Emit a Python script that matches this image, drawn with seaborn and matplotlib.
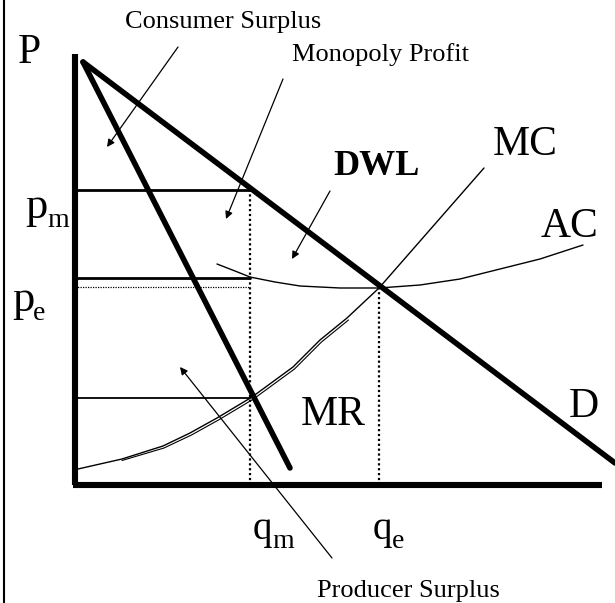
import matplotlib
matplotlib.use("Agg")
import matplotlib.pyplot as plt
import seaborn as sns

# ---- data (units: quantity Q on x, price P on y) ----
demand_q = [0.16, 10.8]
demand_p = [8.46, 0.44]
mr_q = [0.16, 4.30]
mr_p = [8.46, 0.34]
mc_q = [0.06, 0.94, 1.76, 2.30, 2.84, 3.54, 4.36, 4.90, 5.44, 6.08, 8.18]
mc_p = [0.32, 0.52, 0.78, 1.04, 1.34, 1.76, 2.36, 2.90, 3.34, 3.94, 6.34]
mc2_q = [0.94, 1.78, 2.33, 2.87, 3.57, 4.39, 4.93, 5.47]
mc2_p = [0.49, 0.74, 1.00, 1.30, 1.72, 2.32, 2.86, 3.30]
ac_q = [2.84, 3.20, 3.50, 4.00, 4.50, 5.30, 6.08, 6.90, 7.70, 8.50, 9.30, 10.16]
ac_p = [4.42, 4.28, 4.16, 4.06, 3.98, 3.94, 3.94, 4.00, 4.12, 4.32, 4.52, 4.80]
p_m = 5.90
ac_at_qm = 4.14
p_e = 3.96
mc_at_qm = 1.74
q_m = 3.50
q_e = 6.08
q_axis_max = 10.54
p_axis_max = 8.62

sns.set_style("white")
plt.rcParams["font.family"] = ["Liberation Serif", "DejaVu Serif"]
plt.rcParams["text.color"] = "black"

fig = plt.figure(figsize=(6.15, 6.03), dpi=100)
ax = fig.add_axes([0, 0, 1, 1])
ax.set_xlim(-1.5, 10.8)
ax.set_ylim(-2.36, 9.7)
ax.axis("off")

k = dict(ax=ax, color="black", estimator=None, sort=False, legend=False)

# axes
sns.lineplot(x=[0, 0], y=[0, p_axis_max], linewidth=4.4, solid_capstyle="butt", **k)
sns.lineplot(x=[-0.04, q_axis_max], y=[0, 0], linewidth=4.4, solid_capstyle="butt", **k)
ax.axvline(-1.42, color="black", linewidth=1.5)

# price / quantity guide lines
sns.lineplot(x=[0, q_m], y=[p_m, p_m], linewidth=2.0, **k)
sns.lineplot(x=[0, q_m], y=[ac_at_qm, ac_at_qm], linewidth=2.0, **k)
sns.lineplot(x=[0, q_m], y=[p_e, p_e], linewidth=0.9, linestyle=(0, (1, 1)), **k)
sns.lineplot(x=[0, q_m], y=[mc_at_qm, mc_at_qm], linewidth=1.3, **k)
sns.lineplot(x=[q_m, q_m], y=[0, p_m], linewidth=1.6, linestyle=(0, (1, 1.2)), **k)
sns.lineplot(x=[q_e, q_e], y=[0, p_e], linewidth=1.6, linestyle=(0, (1, 1.2)), **k)

# curves
sns.lineplot(x=demand_q, y=demand_p, linewidth=4.0, **k)
sns.lineplot(x=mr_q, y=mr_p, linewidth=4.0, **k)
sns.lineplot(x=mc_q, y=mc_p, linewidth=1.0, **k)
sns.lineplot(x=mc2_q, y=mc2_p, linewidth=0.8, **k)
sns.lineplot(x=ac_q, y=ac_p, linewidth=1.0, **k)

# labels
big = 30
ax.text(-1.14, 8.44, "P", fontsize=big, ha="left", va="baseline")
ax.text(8.36, 6.60, "MC", fontsize=big, ha="left", va="baseline")
ax.text(9.32, 4.96, "AC", fontsize=big, ha="left", va="baseline")
ax.text(9.88, 1.36, "D", fontsize=big, ha="left", va="baseline")
ax.text(4.52, 1.20, "MR", fontsize=big, ha="left", va="baseline")
ax.text(5.16, 6.20, "DWL", fontsize=26, fontweight="bold", ha="left", va="baseline")

# subscripted labels: (main, sub, anchor, main size, sub offset in points)
sub_labels = [
    ("p", "m", (-1.00, 5.34), 32, (15.8, -6.5)),
    ("p", "e", (-1.26, 3.48), 32, (15.1, -6.5)),
    ("q", "m", (3.56, -1.08), 28, (13.7, -6.5)),
    ("q", "e", (5.96, -1.08), 28, (13.7, -6.5)),
]
for main, sub, anchor, size, off in sub_labels:
    ax.text(anchor[0], anchor[1], main, fontsize=size, ha="left", va="baseline")
    ax.annotate(sub, xy=anchor, xytext=off, textcoords="offset points",
                fontsize=20, ha="left", va="baseline")

small = 19
notes = [
    ("Consumer Surplus", (1.00, 9.14), (2.06, 8.76), (0.64, 6.76)),
    ("Monopoly Profit", (4.34, 8.48), (4.16, 8.12), (3.02, 5.32)),
    ("Producer Surplus", (4.84, -2.24), (5.14, -1.46), (2.10, 2.36)),
]
for label, pos, start, tip in notes:
    ax.text(pos[0], pos[1], label, fontsize=small, ha="left", va="baseline")
    ax.annotate("", xy=tip, xytext=start,
                arrowprops=dict(arrowstyle="-|>", color="black", lw=0.9,
                                mutation_scale=11, shrinkA=0, shrinkB=0))
ax.annotate("", xy=(4.34, 4.52), xytext=(5.10, 5.88),
            arrowprops=dict(arrowstyle="-|>", color="black", lw=0.9,
                            mutation_scale=11, shrinkA=0, shrinkB=0))

fig.savefig("out.png", dpi=100)
